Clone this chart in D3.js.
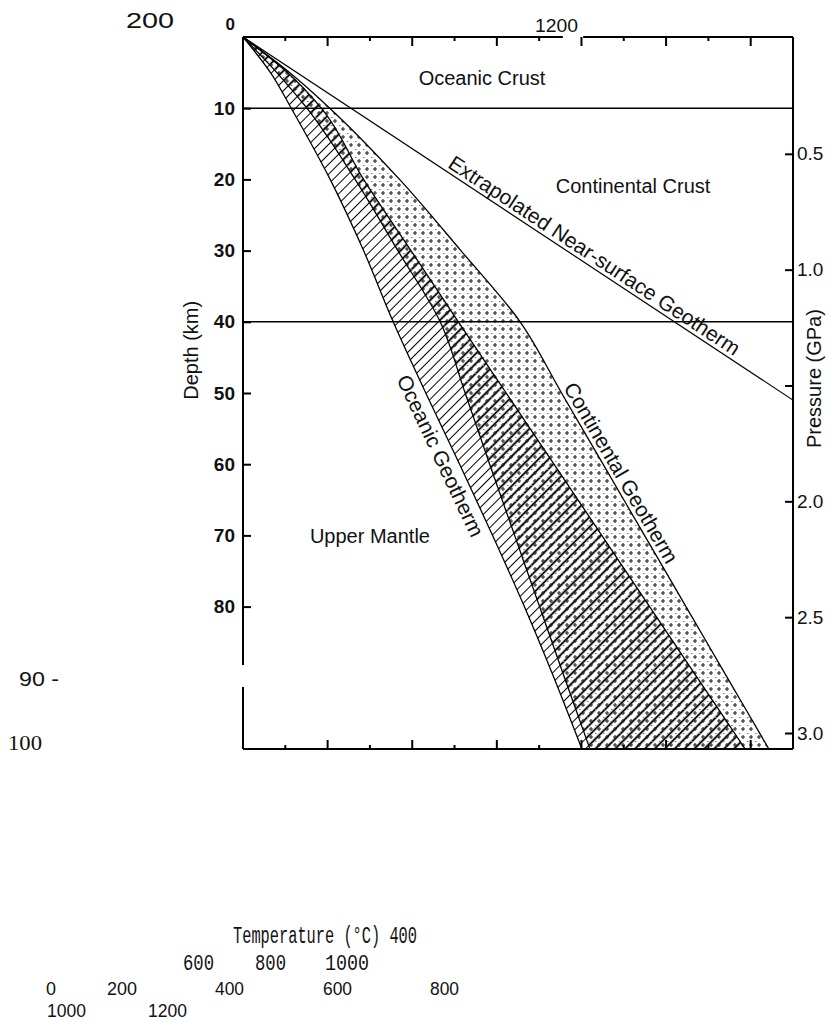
<!DOCTYPE html>
<html>
<head>
<meta charset="utf-8">
<script src="https://cdn.jsdelivr.net/npm/d3@7"></script>
<style>
body { margin: 0; background: #fff; }
svg text { font-family: "Liberation Sans", Arial, sans-serif; fill: #111; }
</style>
</head>
<body>
<svg id="chart"></svg>
<script>
// depths (km) at which the geotherm band edges were read
const depthKm = [0, 5, 10, 20, 30, 40, 50, 60, 70, 80, 90, 100];
// temperature (C) of each band edge at those depths
const oceanicCool     = [0, 65, 114, 206, 285, 355, 432, 512, 590, 665, 735, 801];
const oceanicWarm     = [0, 105, 185, 285, 397, 509, 622, 735, 848, 961, 1074, 1187];
const continentalCool = [0, 80, 151, 265, 366, 466, 525, 583, 642, 701, 760, 820];
const continentalWarm = [0, 110, 205, 370, 515, 655, 753, 851, 949, 1047, 1145, 1243];

// extrapolated near-surface geotherm (straight line)
const nearSurfaceDepth = [0, 51];
const nearSurfaceTemp = [0, 1300];

// base of oceanic and continental crust
const crustBase = [10, 40];

const depthTicks = [0, 10, 20, 30, 40, 50, 60, 70, 80];
const tempTicks = [0, 100, 200, 300, 400, 500, 600, 700, 800, 900, 1000, 1100, 1200, 1300];
const pressureTicks = [0.5, 1.0, 1.5, 2.0, 2.5, 3.0];
const pressureLabels = ["0.5", "1.0", "", "2.0", "2.5", "3.0"];

const margin = {top: 37, right: 37, bottom: 273, left: 243},
    svgWidth = 830,
    svgHeight = 1022,
    width = svgWidth - margin.left - margin.right,
    height = svgHeight - margin.top - margin.bottom;

const chart = d3.select('#chart')
    .attr("width", svgWidth)
    .attr("height", svgHeight);

const defs = chart.append("defs");

// hatching for the oceanic band
defs.append("pattern")
    .attr("id", "hatch")
    .attr("patternUnits", "userSpaceOnUse")
    .attr("width", 7).attr("height", 7)
    .attr("patternTransform", "rotate(45)")
    .append("line")
    .attr("x1", 3.5).attr("y1", -1).attr("x2", 3.5).attr("y2", 8)
    .attr("stroke", "#000").attr("stroke-width", 1);

// heavier hatching where the two bands overlap
defs.append("pattern")
    .attr("id", "hatchHeavy")
    .attr("patternUnits", "userSpaceOnUse")
    .attr("width", 7).attr("height", 7)
    .attr("patternTransform", "rotate(45)")
    .append("line")
    .attr("x1", 3.5).attr("y1", -1).attr("x2", 3.5).attr("y2", 8)
    .attr("stroke", "#000").attr("stroke-width", 1.7);

// stipple for the continental band
const stipple = defs.append("pattern")
    .attr("id", "stipple")
    .attr("patternUnits", "userSpaceOnUse")
    .attr("width", 8).attr("height", 8);
stipple.append("path")
    .attr("d", "M2,4h4M4,2v4")
    .attr("stroke", "#222").attr("stroke-width", 1.1);
stipple.append("path")
    .attr("d", "M0,0.5h1.5")
    .attr("stroke", "#777").attr("stroke-width", 1);

const clip = defs.append("clipPath").attr("id", "plotClip");

const innerChart = chart.append("g")
    .attr("transform", "translate(" + margin.left + "," + margin.top + ")");

clip.append("rect").attr("width", width).attr("height", height);

var xScale = d3.scaleLinear().domain([0, 1300]).range([0, width]);
var yScale = d3.scaleLinear().domain([0, 100]).range([0, height]);
var pScale = d3.scaleLinear().domain([0, 3]).range([1, 696]);

function rows(temps) {
    return depthKm.map((d, i) => ({depth: d, temp: temps[i]}));
}
function bandRows(lo, hi) {
    return depthKm.map((d, i) => ({depth: d, lo: lo[i], hi: hi[i]}));
}

var valueline = d3.line()
    .x(d => xScale(d.temp))
    .y(d => yScale(d.depth))
    .curve(d3.curveMonotoneY);

var band = d3.area()
    .y(d => yScale(d.depth))
    .x0(d => xScale(d.lo))
    .x1(d => xScale(d.hi))
    .curve(d3.curveMonotoneY);

const plot = innerChart.append("g").attr("clip-path", "url(#plotClip)");

plot.append("path").datum(bandRows(oceanicCool, oceanicWarm))
    .attr("d", band).attr("fill", "url(#hatch)");
plot.append("path").datum(bandRows(continentalCool, oceanicWarm))
    .attr("d", band).attr("fill", "url(#hatchHeavy)");
plot.append("path").datum(bandRows(continentalCool, continentalWarm))
    .attr("d", band).attr("fill", "url(#stipple)");

[oceanicCool, oceanicWarm, continentalCool, continentalWarm].forEach(function(temps) {
    plot.append("path").datum(rows(temps))
        .attr("d", valueline)
        .attr("fill", "none").attr("stroke", "#000").attr("stroke-width", 1.3);
});

plot.append("path")
    .datum(nearSurfaceDepth.map((d, i) => ({depth: d, temp: nearSurfaceTemp[i]})))
    .attr("d", d3.line().x(d => xScale(d.temp)).y(d => yScale(d.depth)))
    .attr("fill", "none").attr("stroke", "#000").attr("stroke-width", 1.2);

// crust boundaries
innerChart.selectAll(".moho").data(crustBase).enter().append("line")
    .attr("class", "moho")
    .attr("x1", 0).attr("x2", width)
    .attr("y1", d => yScale(d)).attr("y2", d => yScale(d))
    .attr("stroke", "#000").attr("stroke-width", 1.6);

// frame (left and top edges have small breaks in the original)
const frame = innerChart.append("g").attr("stroke", "#000").attr("stroke-width", 2).attr("fill", "none");
frame.append("line").attr("x1", 0).attr("x2", 0).attr("y1", 0).attr("y2", yScale(88.2));
frame.append("line").attr("x1", 0).attr("x2", 0).attr("y1", yScale(91.3)).attr("y2", height);
frame.append("line").attr("x1", 0).attr("x2", xScale(756)).attr("y1", 0).attr("y2", 0);
frame.append("line").attr("x1", xScale(804)).attr("x2", width).attr("y1", 0).attr("y2", 0);
frame.append("line").attr("x1", 0).attr("x2", width).attr("y1", height).attr("y2", height);
frame.append("line").attr("x1", width).attr("x2", width).attr("y1", 0).attr("y2", height);

// temperature ticks, top and bottom, pointing inward
function tempTickLen(d) { return d % 200 === 0 ? 9 : 4; }
innerChart.selectAll(".ttop").data(tempTicks.slice(1, -1)).enter().append("line")
    .attr("x1", d => xScale(d)).attr("x2", d => xScale(d))
    .attr("y1", 0).attr("y2", d => tempTickLen(d))
    .attr("stroke", "#000").attr("stroke-width", 2);
innerChart.selectAll(".tbot").data(tempTicks.slice(1, -1)).enter().append("line")
    .attr("x1", d => xScale(d)).attr("x2", d => xScale(d))
    .attr("y1", height).attr("y2", d => height - tempTickLen(d))
    .attr("stroke", "#000").attr("stroke-width", 2);

// depth axis
var yAxis = d3.axisLeft(yScale).tickValues(depthTicks).tickSize(-8).tickPadding(8)
    .tickFormat(d3.format("d"));
const gy = innerChart.append("g").call(yAxis);
gy.select(".domain").remove();
gy.selectAll("line").attr("stroke-width", 2);
gy.selectAll("text")
    .style("font-size", "19px").style("font-weight", "bold");
gy.selectAll(".tick").filter(d => d === 0).select("line").remove();
gy.selectAll(".tick").filter(d => d === 0).select("text")
    .attr("x", -8).attr("y", -13).style("font-size", "17px");

// pressure axis
var pAxis = d3.axisRight(pScale).tickValues(pressureTicks).tickSize(-8).tickPadding(4)
    .tickFormat((d, i) => pressureLabels[i]);
const gp = innerChart.append("g").attr("transform", "translate(" + width + ",0)").call(pAxis);
gp.select(".domain").remove();
gp.selectAll("line").attr("stroke-width", 2);
gp.selectAll("text").style("font-size", "19px");

// axis titles
innerChart.append("text")
    .attr("transform", "translate(" + (-45) + "," + yScale(44) + ") rotate(-90)")
    .attr("text-anchor", "middle")
    .style("font-size", "20px")
    .text("Depth (km)");
innerChart.append("text")
    .attr("transform", "translate(" + (width + 28) + "," + pScale(1.47) + ") rotate(-90)")
    .attr("text-anchor", "middle")
    .style("font-size", "20px")
    .text("Pressure (GPa)");

// region names
innerChart.append("text").attr("x", xScale(565)).attr("y", yScale(6.8))
    .attr("text-anchor", "middle").style("font-size", "20px").text("Oceanic Crust");
innerChart.append("text").attr("x", xScale(922)).attr("y", yScale(21.9))
    .attr("text-anchor", "middle").style("font-size", "20px").text("Continental Crust");
innerChart.append("text").attr("x", xScale(300)).attr("y", yScale(71.1))
    .attr("text-anchor", "middle").style("font-size", "20px").text("Upper Mantle");

// label laid along a curve; offset is measured along the text's "up" direction
function curveLabel(text, depths, temps, depth, offset) {
    const t = d3.scaleLinear().domain(depths).range(temps);
    const at = d => [xScale(t(d)), yScale(d)];
    const p0 = at(depth - 4), p1 = at(depth + 4), p = at(depth);
    const a = Math.atan2(p1[1] - p0[1], p1[0] - p0[0]);
    const px = p[0] + Math.sin(a) * offset, py = p[1] - Math.cos(a) * offset;
    innerChart.append("text")
        .attr("transform", "translate(" + px + "," + py + ") rotate(" + (a * 180 / Math.PI) + ")")
        .attr("text-anchor", "middle")
        .style("font-size", "21px")
        .text(text);
}
curveLabel("Extrapolated Near-surface Geotherm", nearSurfaceDepth, nearSurfaceTemp, 32, 4);
curveLabel("Continental Geotherm", depthKm, continentalWarm, 62, 4);
curveLabel("Oceanic Geotherm", depthKm, oceanicCool, 58, -21);

// stray scanned labels that sit outside the frame in the original
const strayText = [
    {text: "200", x: 126, y: 28, w: 48, size: 22, font: "Liberation Sans"},
    {text: "1200", x: 535, y: 32, w: 43, size: 19, font: "Liberation Sans"},
    {text: "90 -", x: 19, y: 686, w: 40, size: 21, font: "Liberation Sans"},
    {text: "100", x: 8, y: 750, w: 34, size: 20, font: "Liberation Serif"},
    {text: "Temperature (\u00B0C) 400", x: 233, y: 943, w: 184, size: 23, font: "Liberation Mono"},
    {text: "600", x: 183, y: 970, w: 31, size: 22, font: "Liberation Mono"},
    {text: "800", x: 255, y: 970, w: 31, size: 22, font: "Liberation Mono"},
    {text: "1000", x: 325, y: 970, w: 44, size: 22, font: "Liberation Mono"},
    {text: "0", x: 46, y: 995, w: 10, size: 19, font: "Liberation Sans"},
    {text: "200", x: 107, y: 995, w: 30, size: 19, font: "Liberation Sans"},
    {text: "400", x: 215, y: 995, w: 29, size: 19, font: "Liberation Sans"},
    {text: "600", x: 323, y: 995, w: 29, size: 19, font: "Liberation Sans"},
    {text: "800", x: 430, y: 995, w: 29, size: 19, font: "Liberation Sans"},
    {text: "1000", x: 47, y: 1017, w: 39, size: 19, font: "Liberation Sans"},
    {text: "1200", x: 148, y: 1017, w: 39, size: 19, font: "Liberation Sans"}
];
chart.selectAll(".stray").data(strayText).enter().append("text")
    .attr("class", "stray")
    .attr("x", d => d.x).attr("y", d => d.y)
    .attr("textLength", d => d.w)
    .attr("lengthAdjust", "spacingAndGlyphs")
    .style("font-family", d => d.font)
    .style("font-size", d => d.size + "px")
    .text(d => d.text);
</script>
</body>
</html>
